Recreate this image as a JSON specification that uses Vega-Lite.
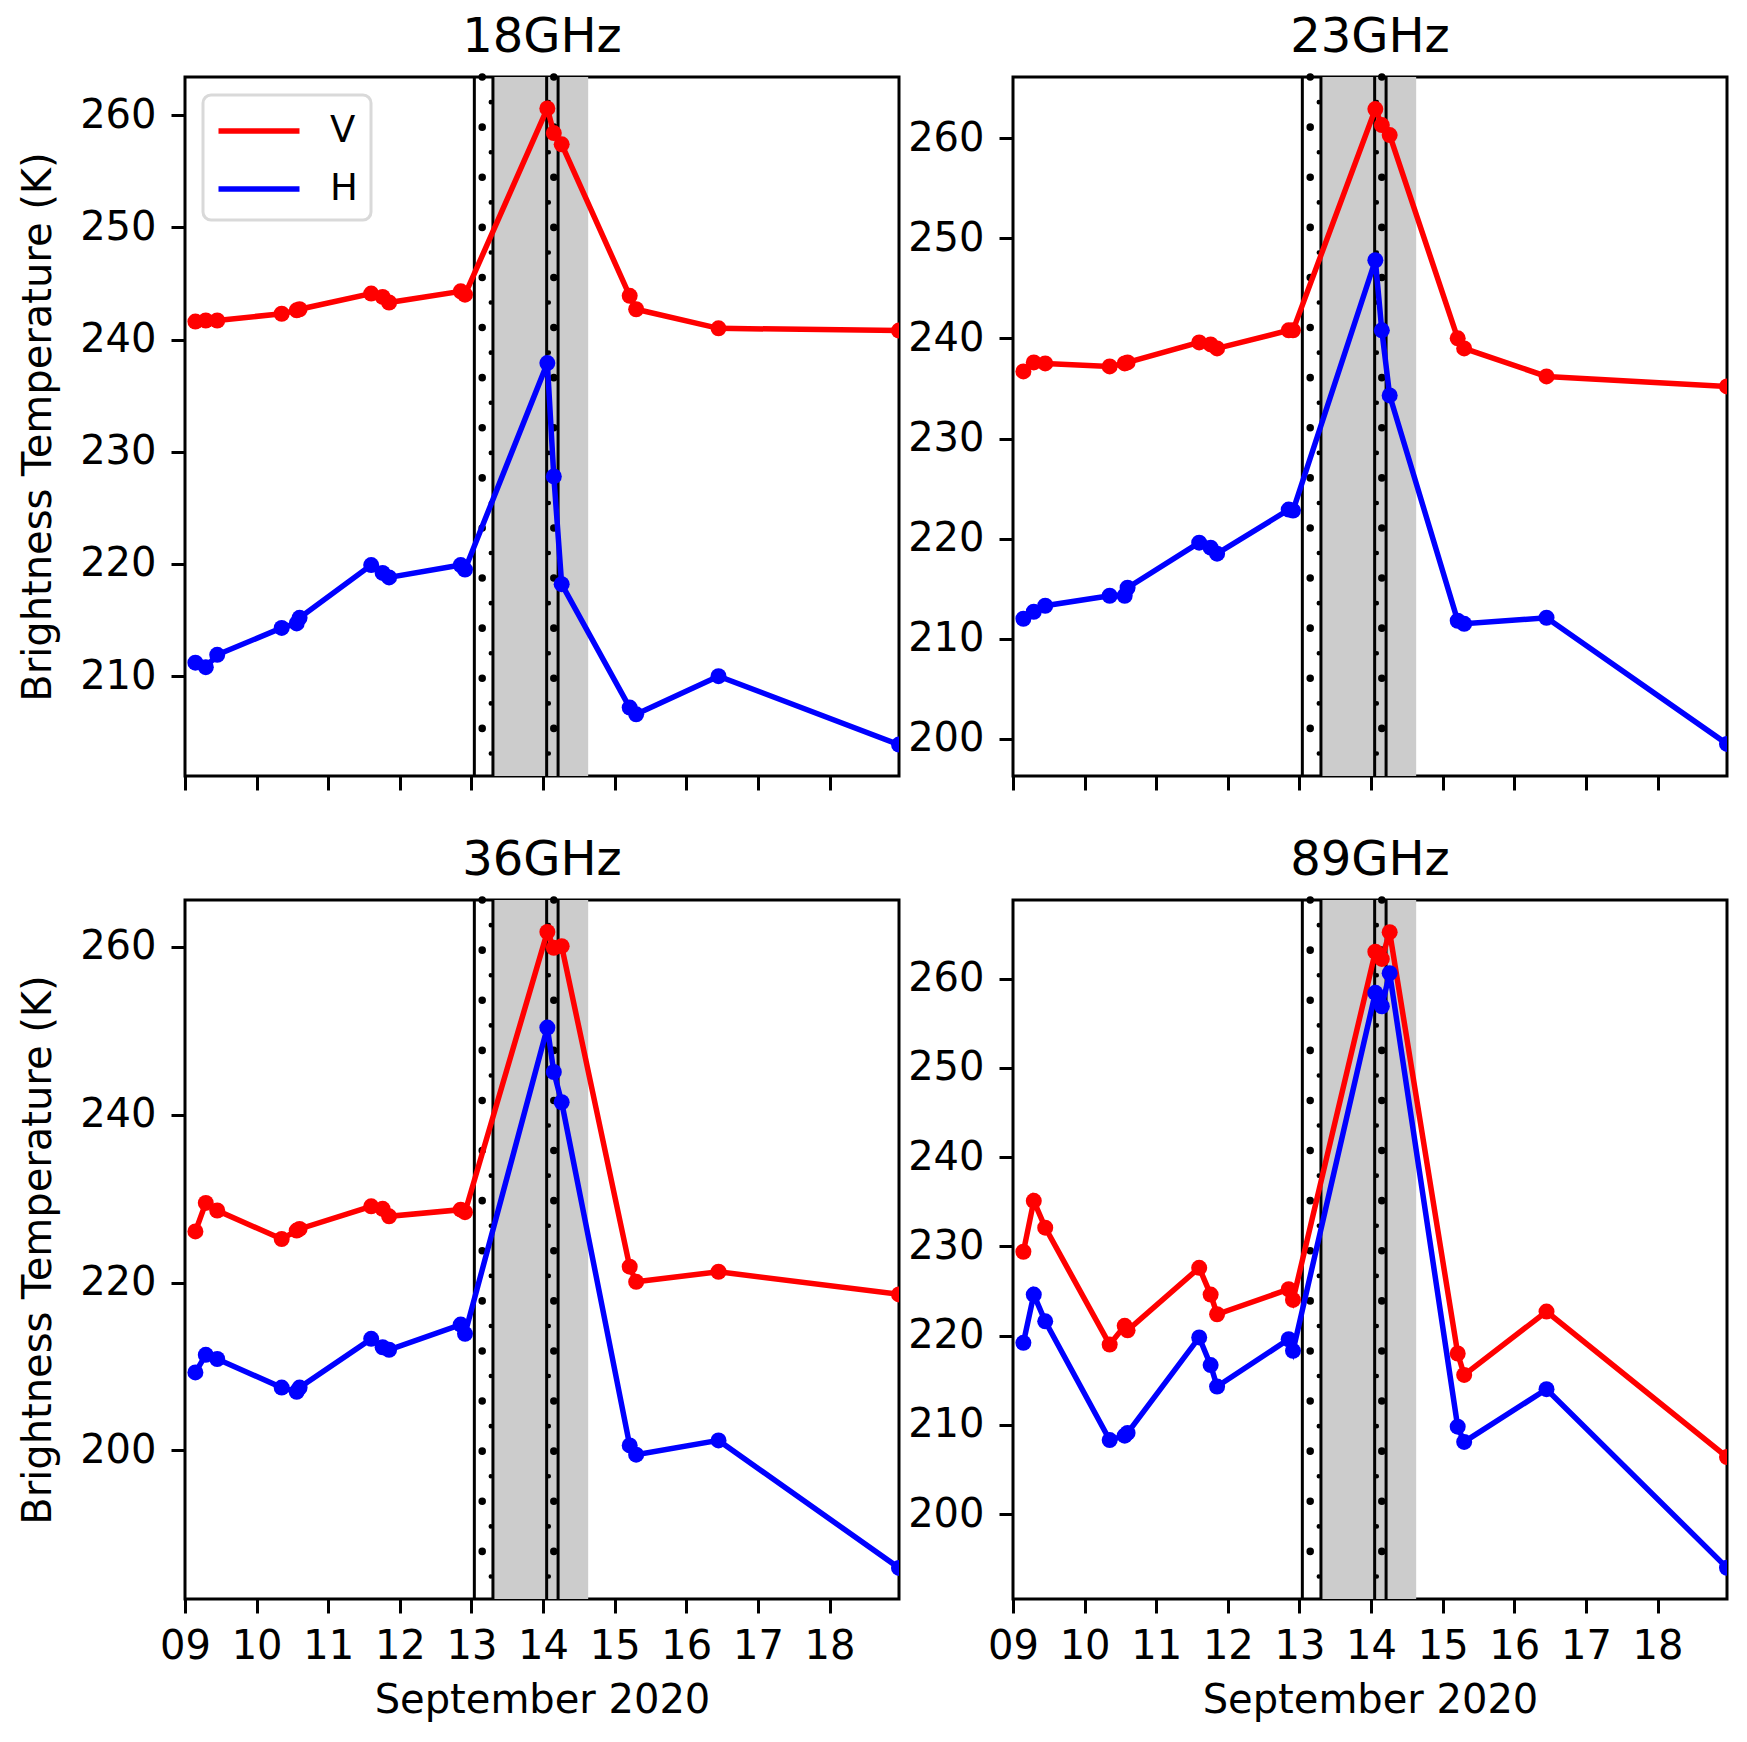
{
  "$schema": "https://vega.github.io/schema/vega-lite/v6.json",
  "padding": {"left": 17, "top": 12, "right": 0, "bottom": 0},
  "background": "white",
  "config": {
    "font": "DejaVu Sans",
    "view": {"stroke": "black", "strokeWidth": 3},
    "axis": {
      "grid": false, "domain": false,
      "tickColor": "black", "tickSize": 14, "tickWidth": 3,
      "labelFont": "DejaVu Sans", "labelFontSize": 40, "labelColor": "black", "labelPadding": 15,
      "titleFont": "DejaVu Sans", "titleFontSize": 40, "titleFontWeight": "normal", "titleColor": "black",
      "minExtent": 0
    },
    "axisX": {"labelFlush": false, "labelOverlap": false, "titlePadding": 14},
    "axisY": {"labelOverlap": false, "titlePadding": 21},
    "title": {"font": "DejaVu Sans", "fontSize": 48, "fontWeight": "normal", "color": "black", "frame": "group", "anchor": "middle", "offset": 11, "baseline": "alphabetic"},
    "legend": {"strokeWidth": 3}
  },
  "datasets": {
    "span": [{"t": "2020-09-13T07:12:00Z", "t2": "2020-09-14T15:07:00Z"}],
    "solid": [
      {"t": "2020-09-13T00:58:00Z"}, {"t": "2020-09-13T07:12:00Z"},
      {"t": "2020-09-14T01:12:00Z"}, {"t": "2020-09-14T05:02:00Z"}
    ],
    "bigdot": [{"t": "2020-09-13T03:36:00Z"}, {"t": "2020-09-14T03:36:00Z"}],
    "smalldot": [{"t": "2020-09-13T06:29:00Z"}, {"t": "2020-09-14T01:55:00Z"}],
    "obs": [
      {"band": "18GHz", "pol": "V", "t": "2020-09-09T03:29:00Z", "tb": 241.6},
      {"band": "18GHz", "pol": "V", "t": "2020-09-09T06:58:00Z", "tb": 241.7},
      {"band": "18GHz", "pol": "V", "t": "2020-09-09T10:48:00Z", "tb": 241.7},
      {"band": "18GHz", "pol": "V", "t": "2020-09-10T08:24:00Z", "tb": 242.3},
      {"band": "18GHz", "pol": "V", "t": "2020-09-10T13:26:00Z", "tb": 242.6},
      {"band": "18GHz", "pol": "V", "t": "2020-09-10T14:24:00Z", "tb": 242.7},
      {"band": "18GHz", "pol": "V", "t": "2020-09-11T14:24:00Z", "tb": 244.1},
      {"band": "18GHz", "pol": "V", "t": "2020-09-11T18:14:00Z", "tb": 243.8},
      {"band": "18GHz", "pol": "V", "t": "2020-09-11T20:24:00Z", "tb": 243.3},
      {"band": "18GHz", "pol": "V", "t": "2020-09-12T20:24:00Z", "tb": 244.3},
      {"band": "18GHz", "pol": "V", "t": "2020-09-12T21:50:00Z", "tb": 244.0},
      {"band": "18GHz", "pol": "V", "t": "2020-09-14T01:26:00Z", "tb": 260.6},
      {"band": "18GHz", "pol": "V", "t": "2020-09-14T03:36:00Z", "tb": 258.4},
      {"band": "18GHz", "pol": "V", "t": "2020-09-14T06:14:00Z", "tb": 257.4},
      {"band": "18GHz", "pol": "V", "t": "2020-09-15T05:02:00Z", "tb": 243.9},
      {"band": "18GHz", "pol": "V", "t": "2020-09-15T07:12:00Z", "tb": 242.7},
      {"band": "18GHz", "pol": "V", "t": "2020-09-16T10:48:00Z", "tb": 241.0},
      {"band": "18GHz", "pol": "V", "t": "2020-09-18T23:17:00Z", "tb": 240.8},
      {"band": "18GHz", "pol": "H", "t": "2020-09-09T03:29:00Z", "tb": 211.2},
      {"band": "18GHz", "pol": "H", "t": "2020-09-09T06:58:00Z", "tb": 210.8},
      {"band": "18GHz", "pol": "H", "t": "2020-09-09T10:48:00Z", "tb": 211.9},
      {"band": "18GHz", "pol": "H", "t": "2020-09-10T08:24:00Z", "tb": 214.3},
      {"band": "18GHz", "pol": "H", "t": "2020-09-10T13:26:00Z", "tb": 214.7},
      {"band": "18GHz", "pol": "H", "t": "2020-09-10T14:24:00Z", "tb": 215.2},
      {"band": "18GHz", "pol": "H", "t": "2020-09-11T14:24:00Z", "tb": 219.9},
      {"band": "18GHz", "pol": "H", "t": "2020-09-11T18:14:00Z", "tb": 219.2},
      {"band": "18GHz", "pol": "H", "t": "2020-09-11T20:24:00Z", "tb": 218.8},
      {"band": "18GHz", "pol": "H", "t": "2020-09-12T20:24:00Z", "tb": 219.9},
      {"band": "18GHz", "pol": "H", "t": "2020-09-12T21:50:00Z", "tb": 219.5},
      {"band": "18GHz", "pol": "H", "t": "2020-09-14T01:26:00Z", "tb": 237.9},
      {"band": "18GHz", "pol": "H", "t": "2020-09-14T03:36:00Z", "tb": 227.8},
      {"band": "18GHz", "pol": "H", "t": "2020-09-14T06:14:00Z", "tb": 218.2},
      {"band": "18GHz", "pol": "H", "t": "2020-09-15T05:02:00Z", "tb": 207.2},
      {"band": "18GHz", "pol": "H", "t": "2020-09-15T07:12:00Z", "tb": 206.6},
      {"band": "18GHz", "pol": "H", "t": "2020-09-16T10:48:00Z", "tb": 210.0},
      {"band": "18GHz", "pol": "H", "t": "2020-09-18T23:17:00Z", "tb": 203.9},
      {"band": "23GHz", "pol": "V", "t": "2020-09-09T03:29:00Z", "tb": 236.7},
      {"band": "23GHz", "pol": "V", "t": "2020-09-09T06:58:00Z", "tb": 237.6},
      {"band": "23GHz", "pol": "V", "t": "2020-09-09T10:48:00Z", "tb": 237.5},
      {"band": "23GHz", "pol": "V", "t": "2020-09-10T08:24:00Z", "tb": 237.2},
      {"band": "23GHz", "pol": "V", "t": "2020-09-10T13:26:00Z", "tb": 237.5},
      {"band": "23GHz", "pol": "V", "t": "2020-09-10T14:24:00Z", "tb": 237.6},
      {"band": "23GHz", "pol": "V", "t": "2020-09-11T14:24:00Z", "tb": 239.6},
      {"band": "23GHz", "pol": "V", "t": "2020-09-11T18:14:00Z", "tb": 239.4},
      {"band": "23GHz", "pol": "V", "t": "2020-09-11T20:24:00Z", "tb": 239.0},
      {"band": "23GHz", "pol": "V", "t": "2020-09-12T20:24:00Z", "tb": 240.8},
      {"band": "23GHz", "pol": "V", "t": "2020-09-12T21:50:00Z", "tb": 240.8},
      {"band": "23GHz", "pol": "V", "t": "2020-09-14T01:26:00Z", "tb": 262.9},
      {"band": "23GHz", "pol": "V", "t": "2020-09-14T03:36:00Z", "tb": 261.3},
      {"band": "23GHz", "pol": "V", "t": "2020-09-14T06:14:00Z", "tb": 260.3},
      {"band": "23GHz", "pol": "V", "t": "2020-09-15T05:02:00Z", "tb": 240.0},
      {"band": "23GHz", "pol": "V", "t": "2020-09-15T07:12:00Z", "tb": 239.0},
      {"band": "23GHz", "pol": "V", "t": "2020-09-16T10:48:00Z", "tb": 236.2},
      {"band": "23GHz", "pol": "V", "t": "2020-09-18T23:17:00Z", "tb": 235.2},
      {"band": "23GHz", "pol": "H", "t": "2020-09-09T03:29:00Z", "tb": 212.0},
      {"band": "23GHz", "pol": "H", "t": "2020-09-09T06:58:00Z", "tb": 212.7},
      {"band": "23GHz", "pol": "H", "t": "2020-09-09T10:48:00Z", "tb": 213.3},
      {"band": "23GHz", "pol": "H", "t": "2020-09-10T08:24:00Z", "tb": 214.3},
      {"band": "23GHz", "pol": "H", "t": "2020-09-10T13:26:00Z", "tb": 214.3},
      {"band": "23GHz", "pol": "H", "t": "2020-09-10T14:24:00Z", "tb": 215.1},
      {"band": "23GHz", "pol": "H", "t": "2020-09-11T14:24:00Z", "tb": 219.6},
      {"band": "23GHz", "pol": "H", "t": "2020-09-11T18:14:00Z", "tb": 219.1},
      {"band": "23GHz", "pol": "H", "t": "2020-09-11T20:24:00Z", "tb": 218.5},
      {"band": "23GHz", "pol": "H", "t": "2020-09-12T20:24:00Z", "tb": 222.9},
      {"band": "23GHz", "pol": "H", "t": "2020-09-12T21:50:00Z", "tb": 222.8},
      {"band": "23GHz", "pol": "H", "t": "2020-09-14T01:26:00Z", "tb": 247.8},
      {"band": "23GHz", "pol": "H", "t": "2020-09-14T03:36:00Z", "tb": 240.8},
      {"band": "23GHz", "pol": "H", "t": "2020-09-14T06:14:00Z", "tb": 234.3},
      {"band": "23GHz", "pol": "H", "t": "2020-09-15T05:02:00Z", "tb": 211.8},
      {"band": "23GHz", "pol": "H", "t": "2020-09-15T07:12:00Z", "tb": 211.5},
      {"band": "23GHz", "pol": "H", "t": "2020-09-16T10:48:00Z", "tb": 212.1},
      {"band": "23GHz", "pol": "H", "t": "2020-09-18T23:17:00Z", "tb": 199.5},
      {"band": "36GHz", "pol": "V", "t": "2020-09-09T03:29:00Z", "tb": 226.1},
      {"band": "36GHz", "pol": "V", "t": "2020-09-09T06:58:00Z", "tb": 229.5},
      {"band": "36GHz", "pol": "V", "t": "2020-09-09T10:48:00Z", "tb": 228.6},
      {"band": "36GHz", "pol": "V", "t": "2020-09-10T08:24:00Z", "tb": 225.2},
      {"band": "36GHz", "pol": "V", "t": "2020-09-10T13:26:00Z", "tb": 226.2},
      {"band": "36GHz", "pol": "V", "t": "2020-09-10T14:24:00Z", "tb": 226.4},
      {"band": "36GHz", "pol": "V", "t": "2020-09-11T14:24:00Z", "tb": 229.1},
      {"band": "36GHz", "pol": "V", "t": "2020-09-11T18:14:00Z", "tb": 228.8},
      {"band": "36GHz", "pol": "V", "t": "2020-09-11T20:24:00Z", "tb": 227.9},
      {"band": "36GHz", "pol": "V", "t": "2020-09-12T20:24:00Z", "tb": 228.7},
      {"band": "36GHz", "pol": "V", "t": "2020-09-12T21:50:00Z", "tb": 228.4},
      {"band": "36GHz", "pol": "V", "t": "2020-09-14T01:26:00Z", "tb": 261.8},
      {"band": "36GHz", "pol": "V", "t": "2020-09-14T03:36:00Z", "tb": 259.9},
      {"band": "36GHz", "pol": "V", "t": "2020-09-14T06:14:00Z", "tb": 260.1},
      {"band": "36GHz", "pol": "V", "t": "2020-09-15T05:02:00Z", "tb": 221.9},
      {"band": "36GHz", "pol": "V", "t": "2020-09-15T07:12:00Z", "tb": 220.1},
      {"band": "36GHz", "pol": "V", "t": "2020-09-16T10:48:00Z", "tb": 221.3},
      {"band": "36GHz", "pol": "V", "t": "2020-09-18T23:17:00Z", "tb": 218.6},
      {"band": "36GHz", "pol": "H", "t": "2020-09-09T03:29:00Z", "tb": 209.3},
      {"band": "36GHz", "pol": "H", "t": "2020-09-09T06:58:00Z", "tb": 211.4},
      {"band": "36GHz", "pol": "H", "t": "2020-09-09T10:48:00Z", "tb": 210.9},
      {"band": "36GHz", "pol": "H", "t": "2020-09-10T08:24:00Z", "tb": 207.5},
      {"band": "36GHz", "pol": "H", "t": "2020-09-10T13:26:00Z", "tb": 207.0},
      {"band": "36GHz", "pol": "H", "t": "2020-09-10T14:24:00Z", "tb": 207.5},
      {"band": "36GHz", "pol": "H", "t": "2020-09-11T14:24:00Z", "tb": 213.3},
      {"band": "36GHz", "pol": "H", "t": "2020-09-11T18:14:00Z", "tb": 212.3},
      {"band": "36GHz", "pol": "H", "t": "2020-09-11T20:24:00Z", "tb": 212.0},
      {"band": "36GHz", "pol": "H", "t": "2020-09-12T20:24:00Z", "tb": 215.0},
      {"band": "36GHz", "pol": "H", "t": "2020-09-12T21:50:00Z", "tb": 213.9},
      {"band": "36GHz", "pol": "H", "t": "2020-09-14T01:26:00Z", "tb": 250.4},
      {"band": "36GHz", "pol": "H", "t": "2020-09-14T03:36:00Z", "tb": 245.1},
      {"band": "36GHz", "pol": "H", "t": "2020-09-14T06:14:00Z", "tb": 241.5},
      {"band": "36GHz", "pol": "H", "t": "2020-09-15T05:02:00Z", "tb": 200.6},
      {"band": "36GHz", "pol": "H", "t": "2020-09-15T07:12:00Z", "tb": 199.5},
      {"band": "36GHz", "pol": "H", "t": "2020-09-16T10:48:00Z", "tb": 201.2},
      {"band": "36GHz", "pol": "H", "t": "2020-09-18T23:17:00Z", "tb": 186.0},
      {"band": "89GHz", "pol": "V", "t": "2020-09-09T03:29:00Z", "tb": 229.4},
      {"band": "89GHz", "pol": "V", "t": "2020-09-09T06:58:00Z", "tb": 235.1},
      {"band": "89GHz", "pol": "V", "t": "2020-09-09T10:48:00Z", "tb": 232.1},
      {"band": "89GHz", "pol": "V", "t": "2020-09-10T08:24:00Z", "tb": 219.0},
      {"band": "89GHz", "pol": "V", "t": "2020-09-10T13:26:00Z", "tb": 221.1},
      {"band": "89GHz", "pol": "V", "t": "2020-09-10T14:24:00Z", "tb": 220.6},
      {"band": "89GHz", "pol": "V", "t": "2020-09-11T14:24:00Z", "tb": 227.6},
      {"band": "89GHz", "pol": "V", "t": "2020-09-11T18:14:00Z", "tb": 224.6},
      {"band": "89GHz", "pol": "V", "t": "2020-09-11T20:24:00Z", "tb": 222.4},
      {"band": "89GHz", "pol": "V", "t": "2020-09-12T20:24:00Z", "tb": 225.2},
      {"band": "89GHz", "pol": "V", "t": "2020-09-12T21:50:00Z", "tb": 224.0},
      {"band": "89GHz", "pol": "V", "t": "2020-09-14T01:26:00Z", "tb": 263.0},
      {"band": "89GHz", "pol": "V", "t": "2020-09-14T03:36:00Z", "tb": 262.2},
      {"band": "89GHz", "pol": "V", "t": "2020-09-14T06:14:00Z", "tb": 265.2},
      {"band": "89GHz", "pol": "V", "t": "2020-09-15T05:02:00Z", "tb": 218.0},
      {"band": "89GHz", "pol": "V", "t": "2020-09-15T07:12:00Z", "tb": 215.6},
      {"band": "89GHz", "pol": "V", "t": "2020-09-16T10:48:00Z", "tb": 222.7},
      {"band": "89GHz", "pol": "V", "t": "2020-09-18T23:17:00Z", "tb": 206.4},
      {"band": "89GHz", "pol": "H", "t": "2020-09-09T03:29:00Z", "tb": 219.2},
      {"band": "89GHz", "pol": "H", "t": "2020-09-09T06:58:00Z", "tb": 224.6},
      {"band": "89GHz", "pol": "H", "t": "2020-09-09T10:48:00Z", "tb": 221.6},
      {"band": "89GHz", "pol": "H", "t": "2020-09-10T08:24:00Z", "tb": 208.3},
      {"band": "89GHz", "pol": "H", "t": "2020-09-10T13:26:00Z", "tb": 208.8},
      {"band": "89GHz", "pol": "H", "t": "2020-09-10T14:24:00Z", "tb": 209.1},
      {"band": "89GHz", "pol": "H", "t": "2020-09-11T14:24:00Z", "tb": 219.8},
      {"band": "89GHz", "pol": "H", "t": "2020-09-11T18:14:00Z", "tb": 216.7},
      {"band": "89GHz", "pol": "H", "t": "2020-09-11T20:24:00Z", "tb": 214.3},
      {"band": "89GHz", "pol": "H", "t": "2020-09-12T20:24:00Z", "tb": 219.6},
      {"band": "89GHz", "pol": "H", "t": "2020-09-12T21:50:00Z", "tb": 218.3},
      {"band": "89GHz", "pol": "H", "t": "2020-09-14T01:26:00Z", "tb": 258.4},
      {"band": "89GHz", "pol": "H", "t": "2020-09-14T03:36:00Z", "tb": 256.9},
      {"band": "89GHz", "pol": "H", "t": "2020-09-14T06:14:00Z", "tb": 260.6},
      {"band": "89GHz", "pol": "H", "t": "2020-09-15T05:02:00Z", "tb": 209.8},
      {"band": "89GHz", "pol": "H", "t": "2020-09-15T07:12:00Z", "tb": 208.1},
      {"band": "89GHz", "pol": "H", "t": "2020-09-16T10:48:00Z", "tb": 214.0},
      {"band": "89GHz", "pol": "H", "t": "2020-09-18T23:17:00Z", "tb": 194.0}
    ]
  },
  "vconcat": [
    {
      "hconcat": [
        {
          "width": 714, "height": 699,
          "title": "18GHz",
          "encoding": {
            "x": {"field": "t", "type": "temporal", "title": null,
              "scale": {"type": "utc", "domain": [{"year": 2020, "month": 9, "date": 9, "utc": true}, {"year": 2020, "month": 9, "date": 18, "hours": 23, "minutes": 17, "utc": true}]},
              "axis": {"labels": false, "values": [
                {"year": 2020, "month": 9, "date": 9, "utc": true}, {"year": 2020, "month": 9, "date": 10, "utc": true},
                {"year": 2020, "month": 9, "date": 11, "utc": true}, {"year": 2020, "month": 9, "date": 12, "utc": true},
                {"year": 2020, "month": 9, "date": 13, "utc": true}, {"year": 2020, "month": 9, "date": 14, "utc": true},
                {"year": 2020, "month": 9, "date": 15, "utc": true}, {"year": 2020, "month": 9, "date": 16, "utc": true},
                {"year": 2020, "month": 9, "date": 17, "utc": true}, {"year": 2020, "month": 9, "date": 18, "utc": true}]}}
          },
          "layer": [
            {"data": {"name": "span"}, "mark": {"type": "rect", "color": "#cccccc"}, "encoding": {"x2": {"field": "t2"}}},
            {"data": {"name": "solid"}, "mark": {"type": "rule", "color": "black", "strokeWidth": 3}, "encoding": {}},
            {"data": {"name": "bigdot"}, "mark": {"type": "rule", "color": "black", "strokeWidth": 7.5, "strokeCap": "round", "strokeDash": [0.1, 50]}, "encoding": {}},
            {"data": {"name": "smalldot"}, "mark": {"type": "rule", "color": "black", "strokeWidth": 4.5, "strokeCap": "round", "strokeDash": [0.1, 50], "strokeDashOffset": 25}, "encoding": {}},
            {
              "data": {"name": "obs"},
              "transform": [{"filter": "datum.band === '18GHz'"}],
              "encoding": {
                "y": {"field": "tb", "type": "quantitative", "scale": {"domain": [201.1, 263.4], "nice": false, "zero": false},
                  "axis": {"values": [210, 220, 230, 240, 250, 260], "title": "Brightness Temperature (K)"}},
                "color": {"field": "pol", "type": "nominal", "scale": {"domain": ["V", "H"], "range": ["#ff0000", "#0000ff"]},
                  "legend": {"orient": "top-left", "offset": 18, "title": null, "symbolType": "M-2,0H2", "symbolSize": 1640, "symbolStrokeWidth": 5.5,
                    "symbolOffset": 20, "labelFontSize": 37, "labelFont": "DejaVu Sans", "labelColor": "black", "labelOffset": 48, "rowPadding": 17, "padding": 13,
                    "strokeColor": "#d9d9d9", "fillColor": "white", "cornerRadius": 8}}
              },
              "layer": [
                {"transform": [{"filter": "datum.pol === 'V'"}], "mark": {"type": "line", "strokeWidth": 5.5, "clip": true}},
                {"transform": [{"filter": "datum.pol === 'V'"}], "mark": {"type": "point", "filled": true, "opacity": 1, "size": 256, "clip": true}},
                {"transform": [{"filter": "datum.pol === 'H'"}], "mark": {"type": "line", "strokeWidth": 5.5, "clip": true}},
                {"transform": [{"filter": "datum.pol === 'H'"}], "mark": {"type": "point", "filled": true, "opacity": 1, "size": 256, "clip": true}}
              ]
            }
          ]
        },
        {
          "width": 714, "height": 699,
          "title": "23GHz",
          "encoding": {
            "x": {"field": "t", "type": "temporal", "title": null,
              "scale": {"type": "utc", "domain": [{"year": 2020, "month": 9, "date": 9, "utc": true}, {"year": 2020, "month": 9, "date": 18, "hours": 23, "minutes": 17, "utc": true}]},
              "axis": {"labels": false, "values": [
                {"year": 2020, "month": 9, "date": 9, "utc": true}, {"year": 2020, "month": 9, "date": 10, "utc": true},
                {"year": 2020, "month": 9, "date": 11, "utc": true}, {"year": 2020, "month": 9, "date": 12, "utc": true},
                {"year": 2020, "month": 9, "date": 13, "utc": true}, {"year": 2020, "month": 9, "date": 14, "utc": true},
                {"year": 2020, "month": 9, "date": 15, "utc": true}, {"year": 2020, "month": 9, "date": 16, "utc": true},
                {"year": 2020, "month": 9, "date": 17, "utc": true}, {"year": 2020, "month": 9, "date": 18, "utc": true}]}}
          },
          "layer": [
            {"data": {"name": "span"}, "mark": {"type": "rect", "color": "#cccccc"}, "encoding": {"x2": {"field": "t2"}}},
            {"data": {"name": "solid"}, "mark": {"type": "rule", "color": "black", "strokeWidth": 3}, "encoding": {}},
            {"data": {"name": "bigdot"}, "mark": {"type": "rule", "color": "black", "strokeWidth": 7.5, "strokeCap": "round", "strokeDash": [0.1, 50]}, "encoding": {}},
            {"data": {"name": "smalldot"}, "mark": {"type": "rule", "color": "black", "strokeWidth": 4.5, "strokeCap": "round", "strokeDash": [0.1, 50], "strokeDashOffset": 25}, "encoding": {}},
            {
              "data": {"name": "obs"},
              "transform": [{"filter": "datum.band === '23GHz'"}],
              "encoding": {
                "y": {"field": "tb", "type": "quantitative", "scale": {"domain": [196.3, 266.1], "nice": false, "zero": false},
                  "axis": {"values": [200, 210, 220, 230, 240, 250, 260], "title": null}},
                "color": {"field": "pol", "type": "nominal", "scale": {"domain": ["V", "H"], "range": ["#ff0000", "#0000ff"]}, "legend": null}
              },
              "layer": [
                {"transform": [{"filter": "datum.pol === 'V'"}], "mark": {"type": "line", "strokeWidth": 5.5, "clip": true}},
                {"transform": [{"filter": "datum.pol === 'V'"}], "mark": {"type": "point", "filled": true, "opacity": 1, "size": 256, "clip": true}},
                {"transform": [{"filter": "datum.pol === 'H'"}], "mark": {"type": "line", "strokeWidth": 5.5, "clip": true}},
                {"transform": [{"filter": "datum.pol === 'H'"}], "mark": {"type": "point", "filled": true, "opacity": 1, "size": 256, "clip": true}}
              ]
            }
          ]
        }
      ],
      "spacing": 5,
      "resolve": {"scale": {"color": "independent"}}
    },
    {
      "hconcat": [
        {
          "width": 714, "height": 699,
          "title": "36GHz",
          "encoding": {
            "x": {"field": "t", "type": "temporal", "title": "September 2020",
              "scale": {"type": "utc", "domain": [{"year": 2020, "month": 9, "date": 9, "utc": true}, {"year": 2020, "month": 9, "date": 18, "hours": 23, "minutes": 17, "utc": true}]},
              "axis": {"format": "%d", "labelPadding": 13, "values": [
                {"year": 2020, "month": 9, "date": 9, "utc": true}, {"year": 2020, "month": 9, "date": 10, "utc": true},
                {"year": 2020, "month": 9, "date": 11, "utc": true}, {"year": 2020, "month": 9, "date": 12, "utc": true},
                {"year": 2020, "month": 9, "date": 13, "utc": true}, {"year": 2020, "month": 9, "date": 14, "utc": true},
                {"year": 2020, "month": 9, "date": 15, "utc": true}, {"year": 2020, "month": 9, "date": 16, "utc": true},
                {"year": 2020, "month": 9, "date": 17, "utc": true}, {"year": 2020, "month": 9, "date": 18, "utc": true}]}}
          },
          "layer": [
            {"data": {"name": "span"}, "mark": {"type": "rect", "color": "#cccccc"}, "encoding": {"x2": {"field": "t2"}}},
            {"data": {"name": "solid"}, "mark": {"type": "rule", "color": "black", "strokeWidth": 3}, "encoding": {}},
            {"data": {"name": "bigdot"}, "mark": {"type": "rule", "color": "black", "strokeWidth": 7.5, "strokeCap": "round", "strokeDash": [0.1, 50]}, "encoding": {}},
            {"data": {"name": "smalldot"}, "mark": {"type": "rule", "color": "black", "strokeWidth": 4.5, "strokeCap": "round", "strokeDash": [0.1, 50], "strokeDashOffset": 25}, "encoding": {}},
            {
              "data": {"name": "obs"},
              "transform": [{"filter": "datum.band === '36GHz'"}],
              "encoding": {
                "y": {"field": "tb", "type": "quantitative", "scale": {"domain": [182.3, 265.6], "nice": false, "zero": false},
                  "axis": {"values": [200, 220, 240, 260], "title": "Brightness Temperature (K)"}},
                "color": {"field": "pol", "type": "nominal", "scale": {"domain": ["V", "H"], "range": ["#ff0000", "#0000ff"]}, "legend": null}
              },
              "layer": [
                {"transform": [{"filter": "datum.pol === 'V'"}], "mark": {"type": "line", "strokeWidth": 5.5, "clip": true}},
                {"transform": [{"filter": "datum.pol === 'V'"}], "mark": {"type": "point", "filled": true, "opacity": 1, "size": 256, "clip": true}},
                {"transform": [{"filter": "datum.pol === 'H'"}], "mark": {"type": "line", "strokeWidth": 5.5, "clip": true}},
                {"transform": [{"filter": "datum.pol === 'H'"}], "mark": {"type": "point", "filled": true, "opacity": 1, "size": 256, "clip": true}}
              ]
            }
          ]
        },
        {
          "width": 714, "height": 699,
          "title": "89GHz",
          "encoding": {
            "x": {"field": "t", "type": "temporal", "title": "September 2020",
              "scale": {"type": "utc", "domain": [{"year": 2020, "month": 9, "date": 9, "utc": true}, {"year": 2020, "month": 9, "date": 18, "hours": 23, "minutes": 17, "utc": true}]},
              "axis": {"format": "%d", "labelPadding": 13, "values": [
                {"year": 2020, "month": 9, "date": 9, "utc": true}, {"year": 2020, "month": 9, "date": 10, "utc": true},
                {"year": 2020, "month": 9, "date": 11, "utc": true}, {"year": 2020, "month": 9, "date": 12, "utc": true},
                {"year": 2020, "month": 9, "date": 13, "utc": true}, {"year": 2020, "month": 9, "date": 14, "utc": true},
                {"year": 2020, "month": 9, "date": 15, "utc": true}, {"year": 2020, "month": 9, "date": 16, "utc": true},
                {"year": 2020, "month": 9, "date": 17, "utc": true}, {"year": 2020, "month": 9, "date": 18, "utc": true}]}}
          },
          "layer": [
            {"data": {"name": "span"}, "mark": {"type": "rect", "color": "#cccccc"}, "encoding": {"x2": {"field": "t2"}}},
            {"data": {"name": "solid"}, "mark": {"type": "rule", "color": "black", "strokeWidth": 3}, "encoding": {}},
            {"data": {"name": "bigdot"}, "mark": {"type": "rule", "color": "black", "strokeWidth": 7.5, "strokeCap": "round", "strokeDash": [0.1, 50]}, "encoding": {}},
            {"data": {"name": "smalldot"}, "mark": {"type": "rule", "color": "black", "strokeWidth": 4.5, "strokeCap": "round", "strokeDash": [0.1, 50], "strokeDashOffset": 25}, "encoding": {}},
            {
              "data": {"name": "obs"},
              "transform": [{"filter": "datum.band === '89GHz'"}],
              "encoding": {
                "y": {"field": "tb", "type": "quantitative", "scale": {"domain": [190.5, 268.8], "nice": false, "zero": false},
                  "axis": {"values": [200, 210, 220, 230, 240, 250, 260], "title": null}},
                "color": {"field": "pol", "type": "nominal", "scale": {"domain": ["V", "H"], "range": ["#ff0000", "#0000ff"]}, "legend": null}
              },
              "layer": [
                {"transform": [{"filter": "datum.pol === 'V'"}], "mark": {"type": "line", "strokeWidth": 5.5, "clip": true}},
                {"transform": [{"filter": "datum.pol === 'V'"}], "mark": {"type": "point", "filled": true, "opacity": 1, "size": 256, "clip": true}},
                {"transform": [{"filter": "datum.pol === 'H'"}], "mark": {"type": "line", "strokeWidth": 5.5, "clip": true}},
                {"transform": [{"filter": "datum.pol === 'H'"}], "mark": {"type": "point", "filled": true, "opacity": 1, "size": 256, "clip": true}}
              ]
            }
          ]
        }
      ],
      "spacing": 5,
      "resolve": {"scale": {"color": "independent"}}
    }
  ],
  "spacing": 42,
  "resolve": {"scale": {"color": "independent"}}
}
